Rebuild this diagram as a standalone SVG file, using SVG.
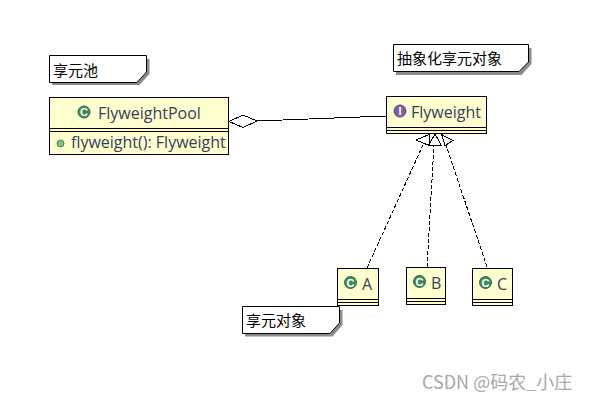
<svg xmlns="http://www.w3.org/2000/svg" width="589" height="401" viewBox="0 0 589 401">
<style>
.box{fill:#fefece;stroke:#000;stroke-width:1}
.ln{stroke:#000;stroke-width:1;fill:none}
.note{fill:#fff;stroke:#000;stroke-width:1}
.shadow{fill:#8c8c8c}
.t{font-family:"Open Sans","Liberation Sans",sans-serif;font-size:16px;fill:#33415c}
.cn{font-family:"Noto Sans CJK SC",sans-serif;font-size:15px;fill:#000}
.dash{stroke:#000;stroke-width:1;fill:none;stroke-dasharray:4 2}
.tri{fill:#fff;stroke:#000;stroke-width:1}
.ic{fill:#3f8a5b;stroke:#2c6a44;stroke-width:1}
.ig{font-family:"Liberation Sans",sans-serif;font-size:11px;font-weight:bold;fill:#fff;text-anchor:middle}
#connectors{shape-rendering:crispEdges}
</style>
<rect width="589" height="401" fill="#fff"/>
<g id="connectors">
<path class="ln" d="M257 121L386 116"/>
<path d="M229 121.500L243 115L257 121L243 127.500Z" fill="#fff" stroke="#000"/>
<path class="dash" d="M367 268L423 145"/>
<path class="dash" d="M427 267L434 145"/>
<path class="dash" d="M487 267L446 145"/>
<path class="tri" d="M429 134.500L416 140L429 145.500Z"/>
<path class="tri" d="M435 134L428.500 145.500H441.500Z"/>
<path class="tri" d="M441.500 134.500L453 140.500L445 145.500Z"/>
</g>
<g id="note-pool">
<path class="shadow" d="M52 59H149.500V74L139.500 85H52Z"/>
<path class="note" d="M49.500 55.500H146.500V72L137 82.500H49.500Z"/>
<text class="cn" x="53" y="76">享元池</text>
</g>
<g id="node-pool">
<rect class="box" x="49.500" y="97.500" width="179" height="57"/>
<path class="ln" d="M49.500 128.500H228.500M49.500 131.500H228.500"/>
<circle class="ic" cx="84" cy="112" r="6"/><text class="ig" x="84" y="116">C</text>
<text class="t" x="98" y="119">FlyweightPool</text>
<circle cx="60.500" cy="143.500" r="3.500" fill="#84be84" stroke="#3f8a5b"/>
<text class="t" x="71" y="148">flyweight(): Flyweight</text>
</g>
<g id="note-abstract">
<path class="shadow" d="M396 48H531.500V64L521.500 75H396Z"/>
<path class="note" d="M393.500 44.500H528.500V62L519 71.500H393.500Z"/>
<text class="cn" x="397" y="64">抽象化享元对象</text>
</g>
<g id="node-flyweight">
<rect class="box" x="386.500" y="96.500" width="100" height="37"/>
<path class="ln" d="M386.500 127.500H486.500M386.500 130.500H486.500"/>
<circle cx="400" cy="111" r="6" fill="#7a5fa8" stroke="#5b4488"/><text class="ig" x="400" y="115">I</text>
<text class="t" x="411" y="118">Flyweight</text>
</g>
<g id="node-a">
<rect class="box" x="337.500" y="268.500" width="41" height="37"/>
<path class="ln" d="M337.500 299.500H378.500M337.500 302.500H378.500"/>
<circle class="ic" cx="350.500" cy="282.500" r="6"/><text class="ig" x="350.500" y="286.500">C</text>
<text class="t" x="362" y="290">A</text>
</g>
<g id="node-b">
<rect class="box" x="406.500" y="267.500" width="39" height="37"/>
<path class="ln" d="M406.500 298.500H445.500M406.500 301.500H445.500"/>
<circle class="ic" cx="419.500" cy="281.500" r="6"/><text class="ig" x="419.500" y="285.500">C</text>
<text class="t" x="431" y="289">B</text>
</g>
<g id="node-c">
<rect class="box" x="472.500" y="268.500" width="40" height="37"/>
<path class="ln" d="M472.500 299.500H512.500M472.500 302.500H512.500"/>
<circle class="ic" cx="485.500" cy="282.500" r="6"/><text class="ig" x="485.500" y="286.500">C</text>
<text class="t" x="497" y="290">C</text>
</g>
<g id="note-concrete">
<path class="shadow" d="M245 310H342.500V325L332.500 336.500H245Z"/>
<path class="note" d="M242.500 306.500H339.500V323L330 333.500H242.500Z"/>
<text class="cn" x="246" y="326">享元对象</text>
</g>
<text x="422" y="389" font-family="'Noto Sans CJK SC',sans-serif" font-size="18" fill="#a8a8a8">CSDN @码农_小庄</text>
</svg>
